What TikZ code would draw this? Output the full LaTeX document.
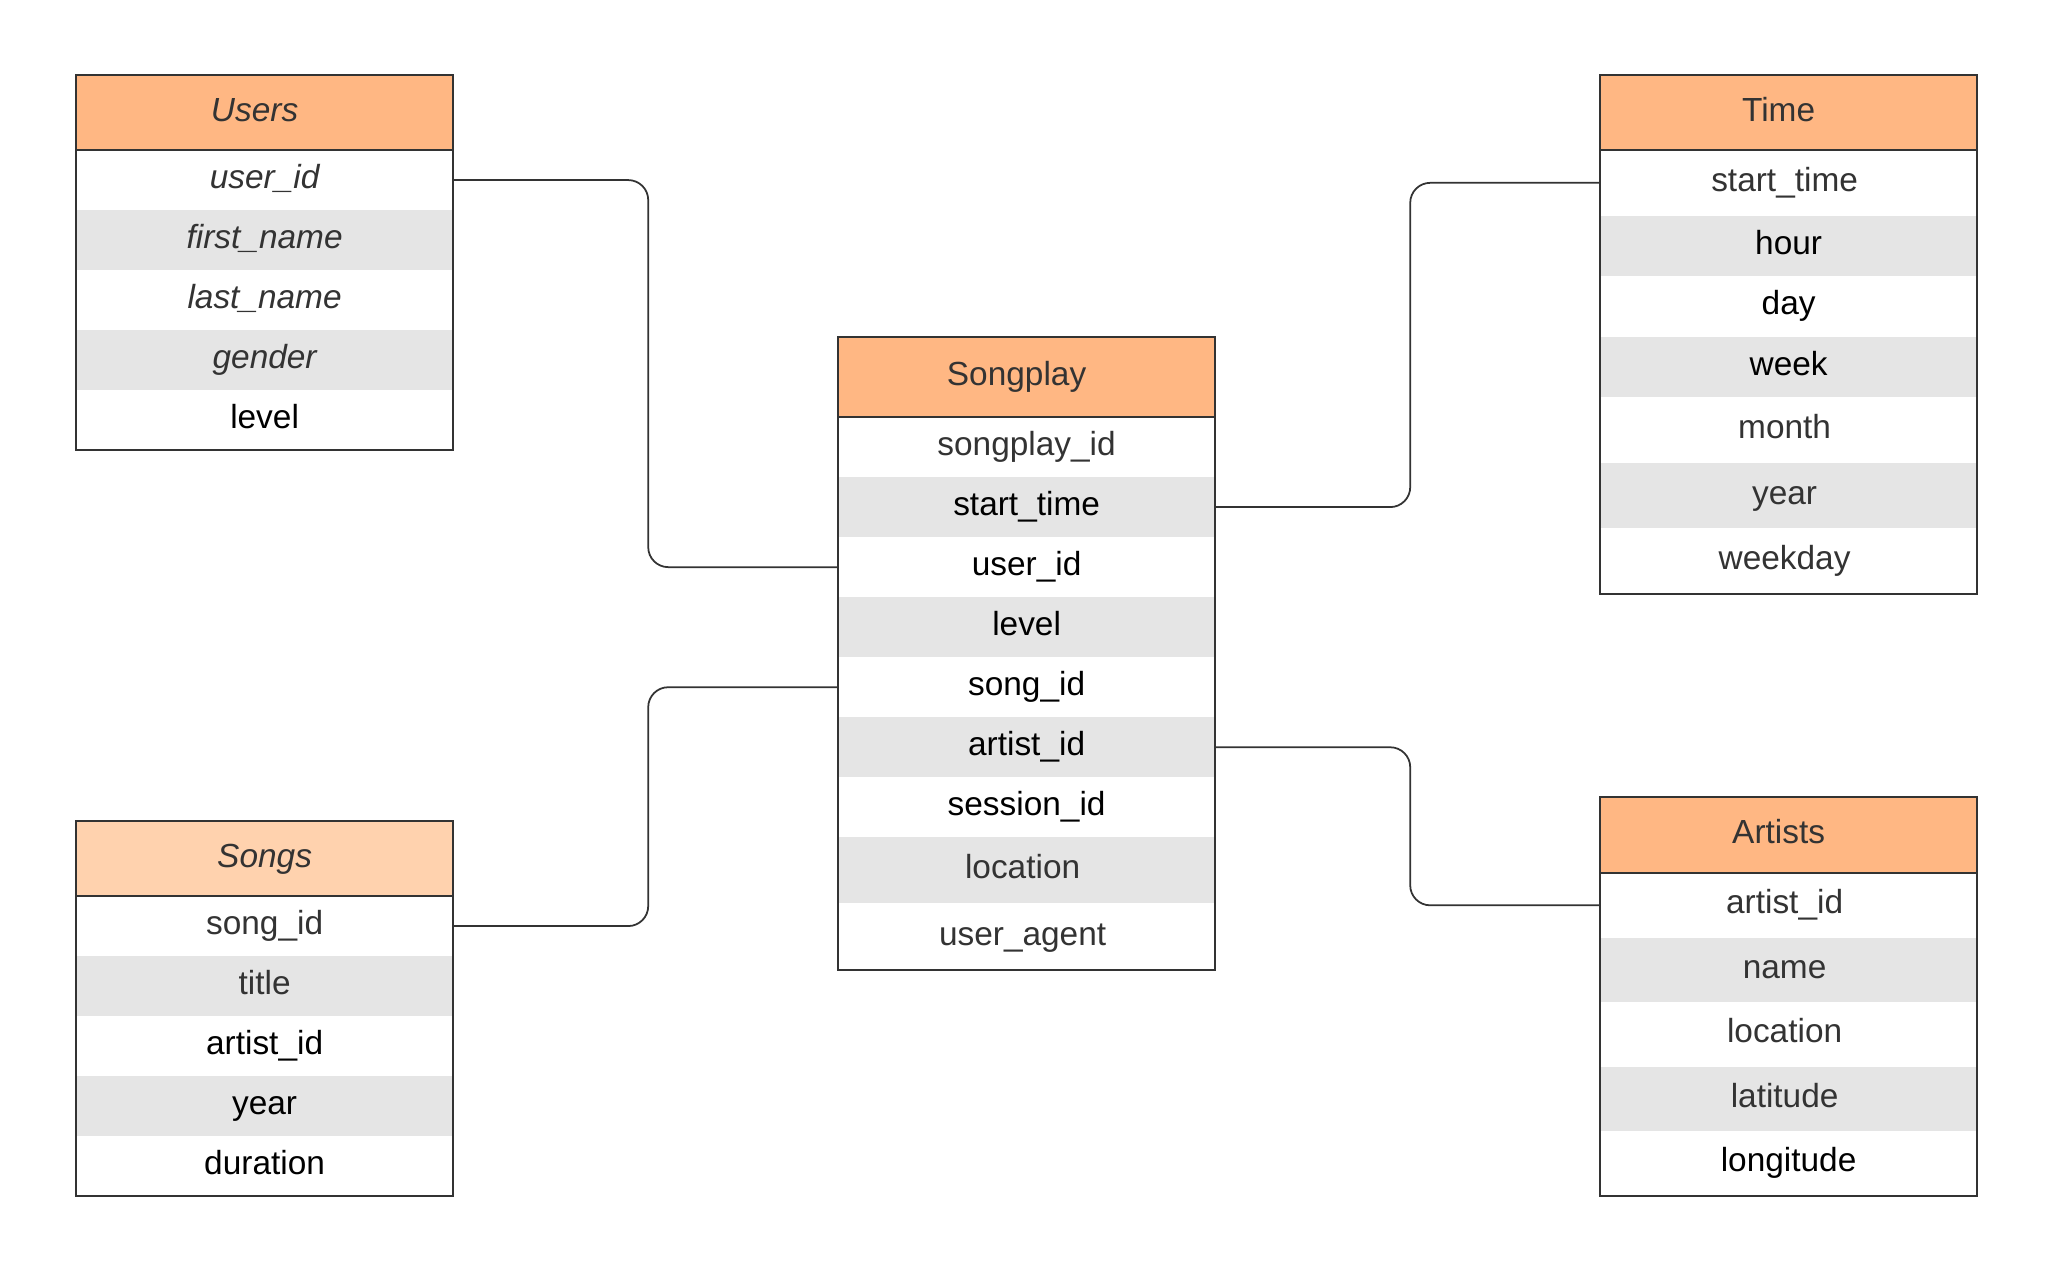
\documentclass[tikz,border=0pt]{standalone}
\usepackage{fontspec}
\setmainfont{Liberation Sans}
\usepackage{xcolor}
\usepackage{tikz}
\usetikzlibrary{positioning}

\definecolor{hdrorange}{HTML}{FFB783}
\definecolor{hdrlight}{HTML}{FFD2AE}
\definecolor{rowgray}{HTML}{E5E5E5}
\definecolor{ink}{HTML}{333333}

\begin{document}
\begin{tikzpicture}[x=0.01cm, y=-0.01cm,
  every node/.style={inner sep=0pt, outer sep=0pt, minimum width=3.77cm, text height=0.26cm, text depth=0.09cm, text=ink, font=\fontsize{9.5}{11}\selectfont},
  hdr/.style={fill=hdrorange, minimum height=0.75cm},
  rowW/.style={minimum height=0.60cm},
  rowG/.style={fill=rowgray, minimum height=0.60cm},
  frame/.style={draw=ink, line width=0.6pt},
  link/.style={draw=ink, line width=0.5pt, rounded corners=0.2cm}]

% Page
\fill[white] (0,0) rectangle (2051,1269);
\useasboundingbox (0,0) rectangle (2051,1269);

% Users table
\node[hdr, anchor=north west] (users-h) at (76,75) {\itshape Users\kern0.2cm};
\node[rowW, below=0pt of users-h] (users-uid) {\itshape user\_id};
\node[rowG, below=0pt of users-uid] (users-first) {\itshape first\_name};
\node[rowW, below=0pt of users-first] (users-last) {\itshape last\_name};
\node[rowG, below=0pt of users-last] (users-gender) {\itshape gender};
\node[rowW, below=0pt of users-gender, text=black] (users-level) {level};
\draw[frame] (users-h.north west) rectangle (users-level.south east);
\draw[frame] (users-h.south west) -- (users-h.south east);

% Songs table
\node[hdr, fill=hdrlight, anchor=north west] (songs-h) at (76,821) {\itshape Songs};
\node[rowW, below=0pt of songs-h] (songs-sid) {song\_id};
\node[rowG, below=0pt of songs-sid] (songs-title) {title};
\node[rowW, below=0pt of songs-title, text=black] (songs-aid) {artist\_id};
\node[rowG, below=0pt of songs-aid, text=black] (songs-year) {year};
\node[rowW, below=0pt of songs-year, text=black] (songs-dur) {duration};
\draw[frame] (songs-h.north west) rectangle (songs-dur.south east);
\draw[frame] (songs-h.south west) -- (songs-h.south east);

% Songplay table (fact)
\node[hdr, minimum height=0.8cm, anchor=north west] (sp-h) at (838,337) {Songplay\kern0.2cm};
\node[rowW, below=0pt of sp-h] (sp-id) {songplay\_id};
\node[rowG, below=0pt of sp-id, text=black] (sp-start) {start\_time};
\node[rowW, below=0pt of sp-start, text=black] (sp-uid) {user\_id};
\node[rowG, below=0pt of sp-uid, text=black] (sp-level) {level};
\node[rowW, below=0pt of sp-level, text=black] (sp-sid) {song\_id};
\node[rowG, below=0pt of sp-sid, text=black] (sp-aid) {artist\_id};
\node[rowW, below=0pt of sp-aid, text=black] (sp-sess) {session\_id};
\node[rowG, minimum height=0.66cm, below=0pt of sp-sess] (sp-loc) {location\kern0.08cm};
\node[rowW, minimum height=0.665cm, below=0pt of sp-loc] (sp-agent) {user\_agent\kern0.08cm};
\draw[frame] (sp-h.north west) rectangle (sp-agent.south east);
\draw[frame] (sp-h.south west) -- (sp-h.south east);

% Time table
\node[hdr, anchor=north west] (time-h) at (1600,75) {Time\kern0.2cm};
\node[rowW, minimum height=0.655cm, below=0pt of time-h] (time-start) {start\_time\kern0.08cm};
\node[rowG, minimum height=0.605cm, below=0pt of time-start, text=black] (time-hour) {hour};
\node[rowW, minimum height=0.605cm, below=0pt of time-hour, text=black] (time-day) {day};
\node[rowG, minimum height=0.605cm, below=0pt of time-day, text=black] (time-week) {week};
\node[rowW, minimum height=0.655cm, below=0pt of time-week] (time-month) {month\kern0.08cm};
\node[rowG, minimum height=0.655cm, below=0pt of time-month] (time-year) {year\kern0.08cm};
\node[rowW, minimum height=0.655cm, below=0pt of time-year] (time-wday) {weekday\kern0.08cm};
\draw[frame] (time-h.north west) rectangle (time-wday.south east);
\draw[frame] (time-h.south west) -- (time-h.south east);

% Artists table
\node[hdr, minimum height=0.76cm, anchor=north west] (art-h) at (1600,797) {Artists\kern0.2cm};
\node[rowW, minimum height=0.645cm, below=0pt of art-h] (art-aid) {artist\_id\kern0.08cm};
\node[rowG, minimum height=0.645cm, below=0pt of art-aid] (art-name) {name\kern0.08cm};
\node[rowW, minimum height=0.645cm, below=0pt of art-name] (art-loc) {location\kern0.08cm};
\node[rowG, minimum height=0.645cm, below=0pt of art-loc] (art-lat) {latitude\kern0.08cm};
\node[rowW, minimum height=0.645cm, below=0pt of art-lat, text=black] (art-lon) {longitude};
\draw[frame] (art-h.north west) rectangle (art-lon.south east);
\draw[frame] (art-h.south west) -- (art-h.south east);

% Links
\draw[link] (users-uid.east) -- ++(195,0) |- (sp-uid.west);
\draw[link] (songs-sid.east) -- ++(195,0) |- (sp-sid.west);
\draw[link] (sp-start.east) -- ++(195,0) |- (time-start.west);
\draw[link] (sp-aid.east) -- ++(195,0) |- (art-aid.west);

\end{tikzpicture}
\end{document}
